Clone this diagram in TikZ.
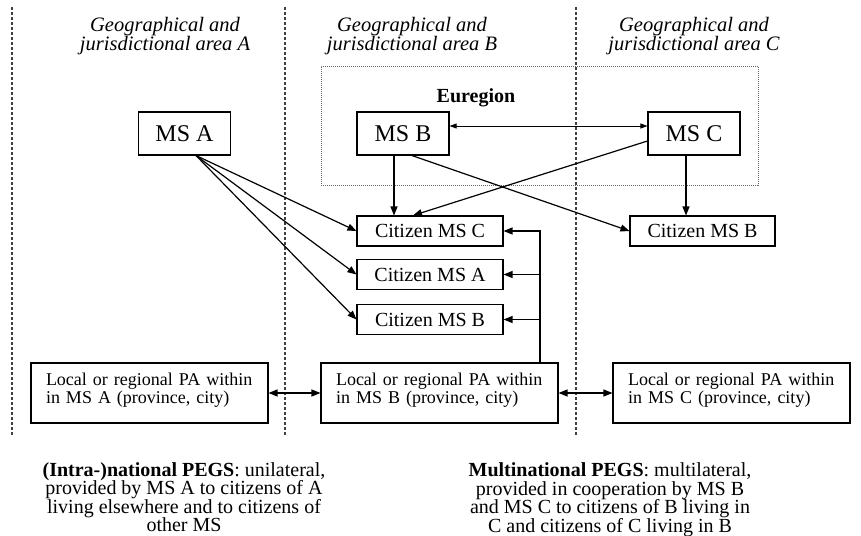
\documentclass[tikz,border=0pt]{standalone}
\usepackage{fontspec}
\setmainfont{Liberation Serif}
\usetikzlibrary{arrows.meta,calc}
\newcommand{\pastrut}{\rule[-10pt]{0pt}{10pt}}
\begin{document}
\begin{tikzpicture}[x=1pt,y=-1pt,
  box/.style={draw, line width=1.1pt, inner sep=0pt},
  msbox/.style={box, minimum width=92pt, minimum height=43pt, font=\fontsize{24}{26}\selectfont},
  citbox/.style={box, minimum width=146pt, minimum height=30pt, font=\fontsize{20}{22}\selectfont},
  pabox/.style={box, minimum width=237pt, minimum height=60pt, inner xsep=15pt, text width=207pt, align=left, font=\fontsize{18}{18}\selectfont},
  arr/.style={line width=1.2pt, -{Triangle[length=9pt,width=7pt]}},
  darr/.style={line width=1.2pt, {Triangle[length=9pt,width=7pt]}-{Triangle[length=9pt,width=7pt]}},
  tarr/.style={line width=0.8pt, {Triangle[length=7pt,width=5pt]}-{Triangle[length=7pt,width=5pt]}},
  sepline/.style={draw=black!75, line width=1.2pt, dash pattern=on 3pt off 2pt},
  eurbox/.style={draw=black!60, line width=0.8pt, dash pattern=on 1pt off 1pt, minimum width=437pt, minimum height=119pt, inner sep=0pt},
  hdr/.style={font=\fontsize{20.5}{18.5}\selectfont\itshape, align=center, inner sep=0pt},
  foot/.style={font=\fontsize{20}{18.5}\selectfont, align=center, inner sep=0pt}
]
\path[fill=white] (0,0) rectangle (861,535);
\useasboundingbox (0,0) rectangle (861,535);

% separators
\draw[sepline] (12,7) -- (12,435);
\draw[sepline] (285,7) -- (285,435);
\draw[sepline] (576,7) -- (576,435);

% headers
\node[hdr] (hA) at (165,36) {Geographical and\\jurisdictional area A};
\node[hdr] (hB) at (412,36) {Geographical and\\jurisdictional area B};
\node[hdr] (hC) at (694,36) {Geographical and\\jurisdictional area C};

% Euregion
\node[eurbox] (eur) at (539.5,125.5) {};
\node[anchor=base, font=\fontsize{20}{22}\selectfont\bfseries, inner sep=0pt] (eurl) at (476,102) {Euregion};

% MS boxes
\node[msbox] (msA) at (184.5,133.5) {MS A};
\node[msbox] (msB) at (403,133.5) {MS B};
\node[msbox] (msC) at (694,133.5) {MS C};

% citizens
\node[citbox] (citC) at (430,231) {Citizen MS C};
\node[citbox] (citA) at (430,274.5) {Citizen MS A};
\node[citbox] (citB) at (430,319.5) {Citizen MS B};
\node[citbox, minimum width=145pt] (citBr) at (702.5,231) {Citizen MS B};

% PA boxes
\node[pabox] (paA) at (149.5,393) {Local or regional PA within\\in MS A (province, city)\pastrut};
\node[pabox] (paB) at (439.5,393) {Local or regional PA within\\in MS B (province, city)\pastrut};
\node[pabox] (paC) at (731.5,393) {Local or regional PA within\\in MS C (province, city)\pastrut};

% arrows from MS A
\draw[arr] ([xshift=11.5pt]msA.south) -- (citC.west);
\draw[arr] ([xshift=11.5pt]msA.south) -- (citA.west);
\draw[arr] ([xshift=11.5pt]msA.south) -- (citB.west);

% arrows from MS B
\draw[arr] ([xshift=-9pt]msB.south) -- ([xshift=-9pt]msB.south |- citC.north);
\draw[arr] ([xshift=9pt]msB.south) -- (citBr.west);
\draw[tarr] ([yshift=7.5pt]msB.east) -- ([yshift=7.5pt]msC.west);

% arrows from MS C
\draw[arr] ([yshift=-7.5pt]msC.west) -- ([xshift=-17pt]citC.north);
\draw[arr] ([xshift=-8pt]msC.south) -- ([xshift=-8pt]msC.south |- citBr.north);

% PA B trunk
\coordinate (trunk) at ([xshift=100.5pt]paB.north);
\draw[arr] (trunk) |- (citC.east);
\draw[arr] (trunk |- citA.east) -- (citA.east);
\draw[arr] (trunk |- citB.east) -- (citB.east);

% PA links
\draw[darr] (paA) -- (paB);
\draw[darr] (paB) -- (paC);

% footers
\node[foot] (fL) at (184,497) {{\bfseries (Intra-)national PEGS}: unilateral,\\provided by MS A to citizens of A\\living elsewhere and to citizens of\\other MS};
\node[foot] (fR) at (610,499.5) {{\bfseries Multinational PEGS}: multilateral,\\provided in cooperation by MS B\\and MS C to citizens of B living in\\C and citizens of C living in B};
\end{tikzpicture}
\end{document}
